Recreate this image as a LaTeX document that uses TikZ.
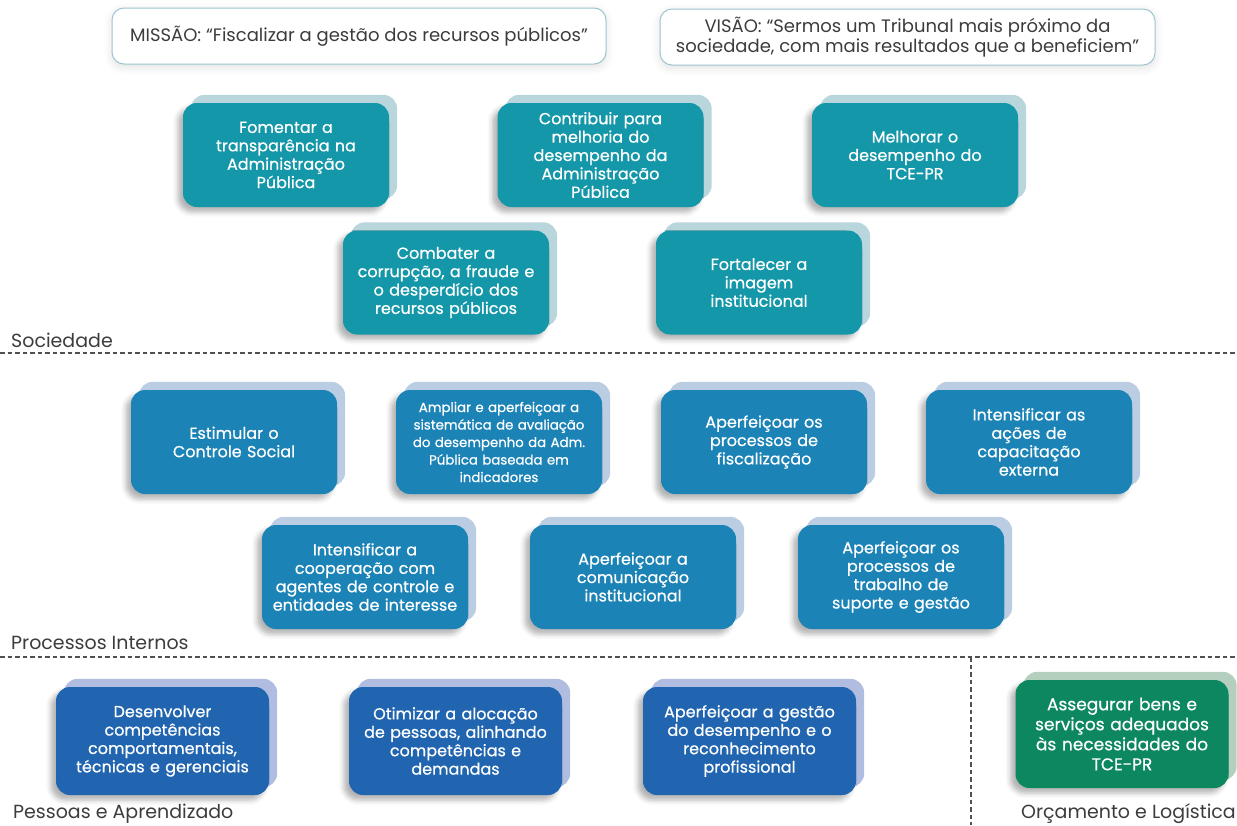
\documentclass[tikz,border=0pt]{standalone}
\usepackage{fontspec}
\setmainfont{Poppins}
\newfontfamily\boxfont{Poppins}[FakeBold=0.6]
\usetikzlibrary{shadows.blur,backgrounds}
\definecolor{tealf}{HTML}{1497A8}
\definecolor{tealb}{HTML}{BAD6DD}
\definecolor{procf}{HTML}{1B83B6}
\definecolor{procb}{HTML}{BACDE3}
\definecolor{peopf}{HTML}{2165B0}
\definecolor{peopb}{HTML}{B0BCE0}
\definecolor{grnf}{HTML}{0D8760}
\definecolor{grnb}{HTML}{B5CFBF}
\definecolor{frameb}{HTML}{9CC5D0}
\definecolor{txtg}{HTML}{3C3C3C}
\definecolor{lineg}{HTML}{505050}
\tikzset{
  objbox/.style={rounded corners=14pt, minimum width=206pt, minimum height=104pt,
    text width=200pt, align=center, text=white, inner sep=0pt,
    font=\boxfont\fontsize{16}{18.4}\selectfont,
    blur shadow={shadow xshift=-5pt, shadow yshift=-5pt, shadow blur radius=5pt, shadow opacity=30}},
  bigbox/.style={objbox, minimum width=213pt, minimum height=108pt, text width=206pt},
  topbox/.style={rounded corners=12pt, draw=frameb, line width=1pt, fill=white,
    minimum height=56pt, align=center, text=txtg, inner sep=0pt,
    font=\fontsize{18}{20.5}\selectfont,
    blur shadow={shadow xshift=0pt, shadow yshift=-3pt, shadow blur radius=8pt, shadow opacity=12}},
  seclabel/.style={text=txtg, inner sep=0pt, font=\fontsize{19}{22}\selectfont},
  divider/.style={lineg, line width=1.3pt, dash pattern=on 4.5pt off 3pt}
}
\begin{document}
\begin{tikzpicture}[x=1pt,y=-1pt]
\useasboundingbox (0,0) rectangle (1237,825);
% mission / vision
\node[topbox, minimum width=494pt] (mis) at (359,36) {MISSÃO: “Fiscalizar a gestão dos recursos públicos”};
\node[topbox, minimum width=495pt] (vis) at (907.5,37) {VISÃO: “Sermos um Tribunal mais próximo da\\sociedade, com mais resultados que a beneficiem”};
% Sociedade
\node[objbox, fill=tealf] (s1) at (286,155) {Fomentar a\\transparência na\\Administração\\Pública};
\node[objbox, fill=tealf] (s2) at (600.5,155) {Contribuir para\\melhoria do\\desempenho da\\Administração\\Pública};
\node[objbox, fill=tealf] (s3) at (915,155) {Melhorar o\\desempenho do\\TCE-PR};
\node[objbox, fill=tealf] (s4) at (446,282.5) {Combater a\\corrupção, a fraude e\\o desperdício dos\\recursos públicos};
\node[objbox, fill=tealf] (s5) at (759,282.5) {Fortalecer a\\imagem\\institucional};
% Processos
\node[objbox, fill=procf] (p1) at (234,442) {Estimular o\\Controle Social};
\node[objbox, fill=procf, font=\boxfont\fontsize{13.3}{17.5}\selectfont] (p2) at (499,442) {Ampliar e aperfeiçoar a\\sistemática de avaliação\\do desempenho da Adm.\\Pública baseada em\\indicadores};
\node[objbox, fill=procf] (p3) at (764,442) {Aperfeiçoar os\\processos de\\fiscalização};
\node[objbox, fill=procf] (p4) at (1029,442) {Intensificar as\\ações de\\capacitação\\externa};
\node[objbox, fill=procf] (p5) at (365,577) {Intensificar a\\cooperação com\\agentes de controle e\\entidades de interesse};
\node[objbox, fill=procf] (p6) at (633,577) {Aperfeiçoar a\\comunicação\\institucional};
\node[objbox, fill=procf] (p7) at (901,577) {Aperfeiçoar os\\processos de\\trabalho de\\suporte e gestão};
% Pessoas
\node[bigbox, fill=peopf] (q1) at (162.5,741) {Desenvolver\\competências\\comportamentais,\\técnicas e gerenciais};
\node[bigbox, fill=peopf] (q2) at (455.5,741) {Otimizar a alocação\\de pessoas, alinhando\\competências e\\demandas};
\node[bigbox, fill=peopf] (q3) at (749.5,741) {Aperfeiçoar a gestão\\do desempenho e o\\reconhecimento\\profissional};
% Orcamento
\node[bigbox, fill=grnf, font=\boxfont\fontsize{17}{20}\selectfont] (g1) at (1122,734) {Assegurar bens e\\serviços adequados\\às necessidades do\\TCE-PR};
% back plates
\begin{scope}[on background layer]
\foreach \n/\c in {s1/tealb,s2/tealb,s3/tealb,s4/tealb,s5/tealb,
  p1/procb,p2/procb,p3/procb,p4/procb,p5/procb,p6/procb,p7/procb,
  q1/peopb,q2/peopb,q3/peopb,g1/grnb}{
  \fill[\c, rounded corners=14pt] ([shift={(8pt,8pt)}]\n.south west) rectangle ([shift={(8pt,8pt)}]\n.north east);
}
\end{scope}
% section labels
\node[seclabel, anchor=base west] (l1) at (11,347) {Sociedade};
\node[seclabel, anchor=base west] (l2) at (11,649) {Processos Internos};
\node[seclabel, anchor=base west] (l3) at (13,818) {Pessoas e Aprendizado};
\node[seclabel, anchor=base east] (l4) at (1236,818) {Orçamento e Logística};
% dividers
\coordinate (d1a) at (0,353); \coordinate (d1b) at (1237,353);
\coordinate (d2a) at (0,657); \coordinate (d2b) at (1237,657);
\coordinate (d3a) at (971,657); \coordinate (d3b) at (971,825);
\draw[divider] (d1a) -- (d1b);
\draw[divider] (d2a) -- (d2b);
\draw[divider] (d3a) -- (d3b);
\end{tikzpicture}
\end{document}
